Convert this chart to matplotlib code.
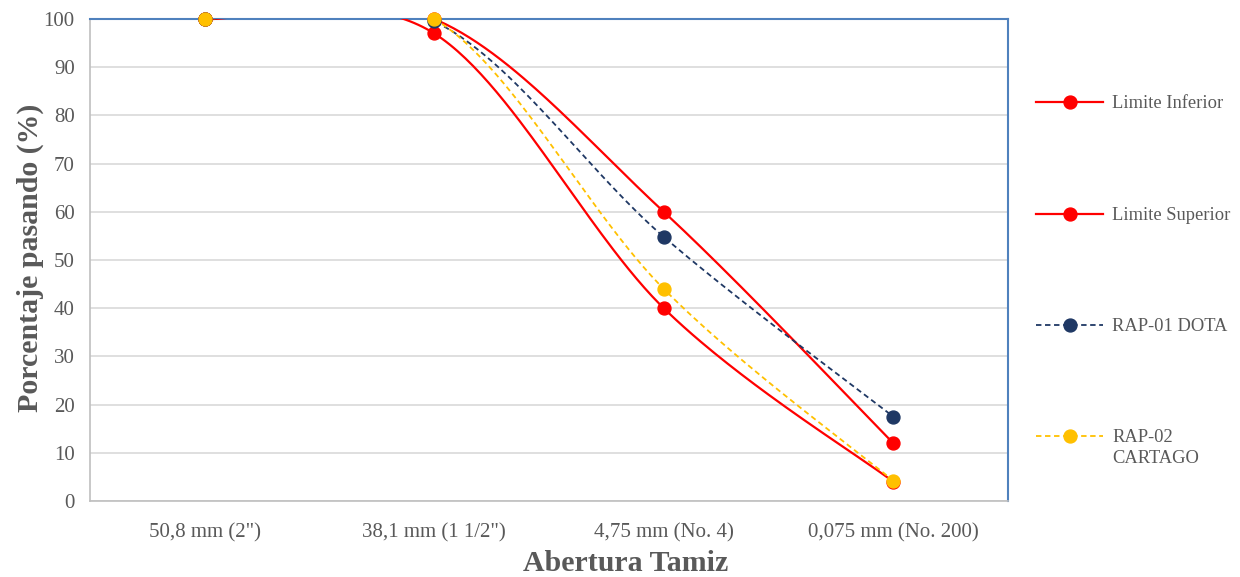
import numpy as np
import matplotlib
matplotlib.use("Agg")
import matplotlib.pyplot as plt
from matplotlib.lines import Line2D

# Sieve openings (categories) and percent passing for each series
sieves = ['50,8 mm (2")', '38,1 mm (1 1/2")', "4,75 mm (No. 4)", "0,075 mm (No. 200)"]
limite_inferior = [100, 97, 40, 4]
limite_superior = [100, 100, 60, 12]
rap01_dota = [100, 99.5, 54.8, 17.5]
rap02_cartago = [100, 100, 44, 4.2]

RED = "#FF0000"
NAVY = "#1F3864"
GOLD = "#FFC000"
TEXT = "#595959"
W, H = 1240, 577
MS = 9.3

plt.rcParams["font.family"] = ["Liberation Serif", "DejaVu Serif"]


def smooth(y, n=60):
    """Excel-style smoothed line (Catmull-Rom bezier through the points)."""
    x = np.arange(len(y), dtype=float)
    y = np.asarray(y, dtype=float)
    xs, ys = [], []
    for i in range(len(y) - 1):
        i0 = max(i - 1, 0)
        i3 = min(i + 2, len(y) - 1)
        p0 = np.array([x[i], y[i]])
        p3 = np.array([x[i + 1], y[i + 1]])
        c1 = p0 + (np.array([x[i + 1], y[i + 1]]) - np.array([x[i0], y[i0]])) / 6
        c2 = p3 - (np.array([x[i3], y[i3]]) - np.array([x[i], y[i]])) / 6
        t = np.linspace(0, 1, n)[:, None]
        pts = ((1 - t) ** 3) * p0 + 3 * ((1 - t) ** 2) * t * c1 + 3 * (1 - t) * t ** 2 * c2 + t ** 3 * p3
        xs.extend(pts[:, 0])
        ys.extend(pts[:, 1])
    return np.array(xs), np.array(ys)


fig = plt.figure(figsize=(W / 100, H / 100), dpi=100)
ax = fig.add_axes([90 / W, 1 - 501 / H, 918 / W, 482 / H])

series = [
    ("Limite Inferior", limite_inferior, RED, "-"),
    ("Limite Superior", limite_superior, RED, "-"),
    ("RAP-01 DOTA", rap01_dota, NAVY, "--"),
    ("RAP-02\nCARTAGO", rap02_cartago, GOLD, "--"),
]

x = np.arange(len(sieves))
for k, (label, vals, color, ls) in enumerate(series):
    sx, sy = smooth(vals)
    lw = 1.6 if ls == "-" else 1.3
    line, = ax.plot(sx, sy, color=color, lw=lw, ls=ls, zorder=3 + k)
    if ls == "--":
        line.set_dashes((3, 2))
    ax.plot(x, vals, "o", color=color, ms=MS, zorder=3 + k, clip_on=False)

ax.set_xlim(-0.5, 3.5)
ax.set_ylim(0, 100)
ax.set_yticks(range(0, 101, 10))
ax.set_xticks(x)
ax.set_xticklabels(sieves)
ax.tick_params(axis="both", length=0, labelsize=15, colors=TEXT)
ax.tick_params(axis="x", pad=16)
ax.tick_params(axis="y", pad=11)
ax.grid(axis="y", color="#D9D9D9", lw=1.2)
ax.set_axisbelow(True)

for side in ("top", "right"):
    ax.spines[side].set_color("#4F81BD")
    ax.spines[side].set_linewidth(1.5)
    ax.spines[side].set_zorder(2.5)
for side in ("left", "bottom"):
    ax.spines[side].set_color("#BFBFBF")
    ax.spines[side].set_linewidth(1.2)

# Excel centres the axis titles on the chart area, not the plot area
ax.set_xlabel("Abertura Tamiz", fontsize=21.5, fontweight="bold", color=TEXT)
ax.set_ylabel("Porcentaje pasando (%)", fontsize=21.5, fontweight="bold", color=TEXT)
ax.xaxis.set_label_coords(0.584, -0.102)
ax.yaxis.set_label_coords(-0.05, 0.505)

# legend drawn by hand so the handle lines up with the first text line (Excel style)
leg_y = [102, 214, 325, 436]
for (label, vals, color, ls), yp in zip(series, leg_y):
    fy = 1 - yp / H
    lw = 1.6 if ls == "-" else 1.3
    h = Line2D([1036 / W, 1103 / W], [fy, fy], transform=fig.transFigure,
               color=color, lw=lw, ls=ls)
    if ls == "--":
        h.set_dashes((3, 2))
    fig.add_artist(h)
    fig.add_artist(Line2D([1070 / W], [fy], transform=fig.transFigure,
                          color=color, marker="o", ms=MS, ls="none"))
    nlines = label.count("\n")
    fig.text(1112 / W, fy - 1.5 / H - nlines * 10.5 / H, label, fontsize=13.3, color=TEXT,
             va="center", ha="left", linespacing=1.25)

fig.savefig("out.png", dpi=100)
